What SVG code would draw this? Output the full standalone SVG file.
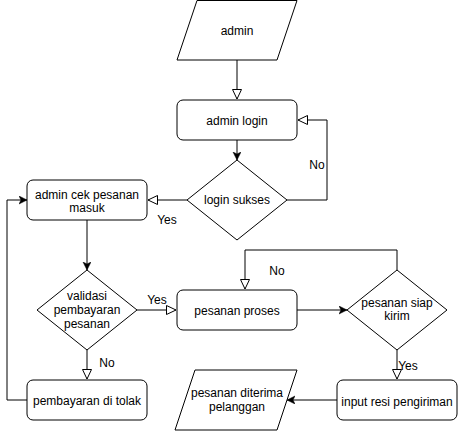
<svg xmlns="http://www.w3.org/2000/svg" width="458" height="431" viewBox="0 0 458 431">
<defs>
<style>
.s{fill:#fff;stroke:#000;stroke-width:1}
.t{font-family:"Liberation Sans",Arial,sans-serif;font-size:12px;fill:#000;text-anchor:middle;dominant-baseline:central}
.c{fill:none;stroke:#000;stroke-width:1}
</style>
<marker id="open" markerUnits="userSpaceOnUse" markerWidth="12" markerHeight="12" viewBox="-1 -1 12 12" refX="9.5" refY="4.5" orient="auto">
<path d="M0,0 L9.5,4.5 L0,9 Z" fill="#fff" stroke="#000" stroke-width="1"/>
</marker>
<marker id="fill" markerUnits="userSpaceOnUse" markerWidth="10" markerHeight="10" viewBox="0 0 10 10" refX="8" refY="4" orient="auto">
<path d="M0,0 L8,4 L0,8 L2,4 Z" fill="#000" stroke="#000" stroke-width="0.5"/>
</marker>
</defs>
<rect width="458" height="431" fill="#fff"/>
<g id="connectors">
<path class="c" d="M237,60 V99" marker-end="url(#open)"/>
<path class="c" d="M237,140 V160" marker-end="url(#fill)"/>
<path class="c" d="M287,200 H327 V120 H298" marker-end="url(#open)"/>
<path class="c" d="M187,200 H148" marker-end="url(#open)"/>
<path class="c" d="M87,220 V270" marker-end="url(#fill)"/>
<path class="c" d="M137,310 H176" marker-end="url(#open)"/>
<path class="c" d="M87,350 V379" marker-end="url(#open)"/>
<path class="c" d="M27,400 H7 V200 H27" marker-end="url(#fill)"/>
<path class="c" d="M297,310 H347" marker-end="url(#fill)"/>
<path class="c" d="M397,270 V250 H245 V289" marker-end="url(#open)"/>
<path class="c" d="M397,350 V379" marker-end="url(#open)"/>
<path class="c" d="M337,400 H287" marker-end="url(#fill)"/>
<text class="t" x="317" y="165">No</text>
<text class="t" x="167" y="220">Yes</text>
<text class="t" x="157" y="300">Yes</text>
<text class="t" x="107" y="363">No</text>
<text class="t" x="277" y="271">No</text>
<text class="t" x="408" y="366">Yes</text>
</g>
<g id="admin">
<polygon class="s" points="197,0.5 297,0.5 277,60 177,60"/>
<text class="t" x="237" y="31">admin</text>
</g>
<g id="admin-login">
<rect class="s" x="177" y="100" width="120" height="40" rx="6"/>
<text class="t" x="237" y="121">admin login</text>
</g>
<g id="login-sukses">
<polygon class="s" points="237,160 287,200 237,240 187,200"/>
<text class="t" x="237" y="200">login sukses</text>
</g>
<g id="admin-cek">
<rect class="s" x="27" y="180" width="120" height="40" rx="6"/>
<text class="t" x="87" y="195">admin cek pesanan</text>
<text class="t" x="87" y="208">masuk</text>
</g>
<g id="validasi">
<polygon class="s" points="87,270 137,310 87,350 37,310"/>
<text class="t" x="87" y="296">validasi</text>
<text class="t" x="87" y="310">pembayaran</text>
<text class="t" x="87" y="324">pesanan</text>
</g>
<g id="ditolak">
<rect class="s" x="27" y="380" width="120" height="40" rx="6"/>
<text class="t" x="87" y="401">pembayaran di tolak</text>
</g>
<g id="proses">
<rect class="s" x="177" y="290" width="120" height="40" rx="6"/>
<text class="t" x="237" y="311">pesanan proses</text>
</g>
<g id="siap-kirim">
<polygon class="s" points="397,270 447,310 397,350 347,310"/>
<text class="t" x="397" y="303">pesanan siap</text>
<text class="t" x="397" y="316">kirim</text>
</g>
<g id="input-resi">
<rect class="s" x="337" y="380" width="120" height="40" rx="6"/>
<text class="t" x="397" y="402">input resi pengiriman</text>
</g>
<g id="diterima">
<polygon class="s" points="195,370 297,370 277,430 175,430"/>
<text class="t" x="237" y="393">pesanan diterima</text>
<text class="t" x="237" y="407">pelanggan</text>
</g>
</svg>
